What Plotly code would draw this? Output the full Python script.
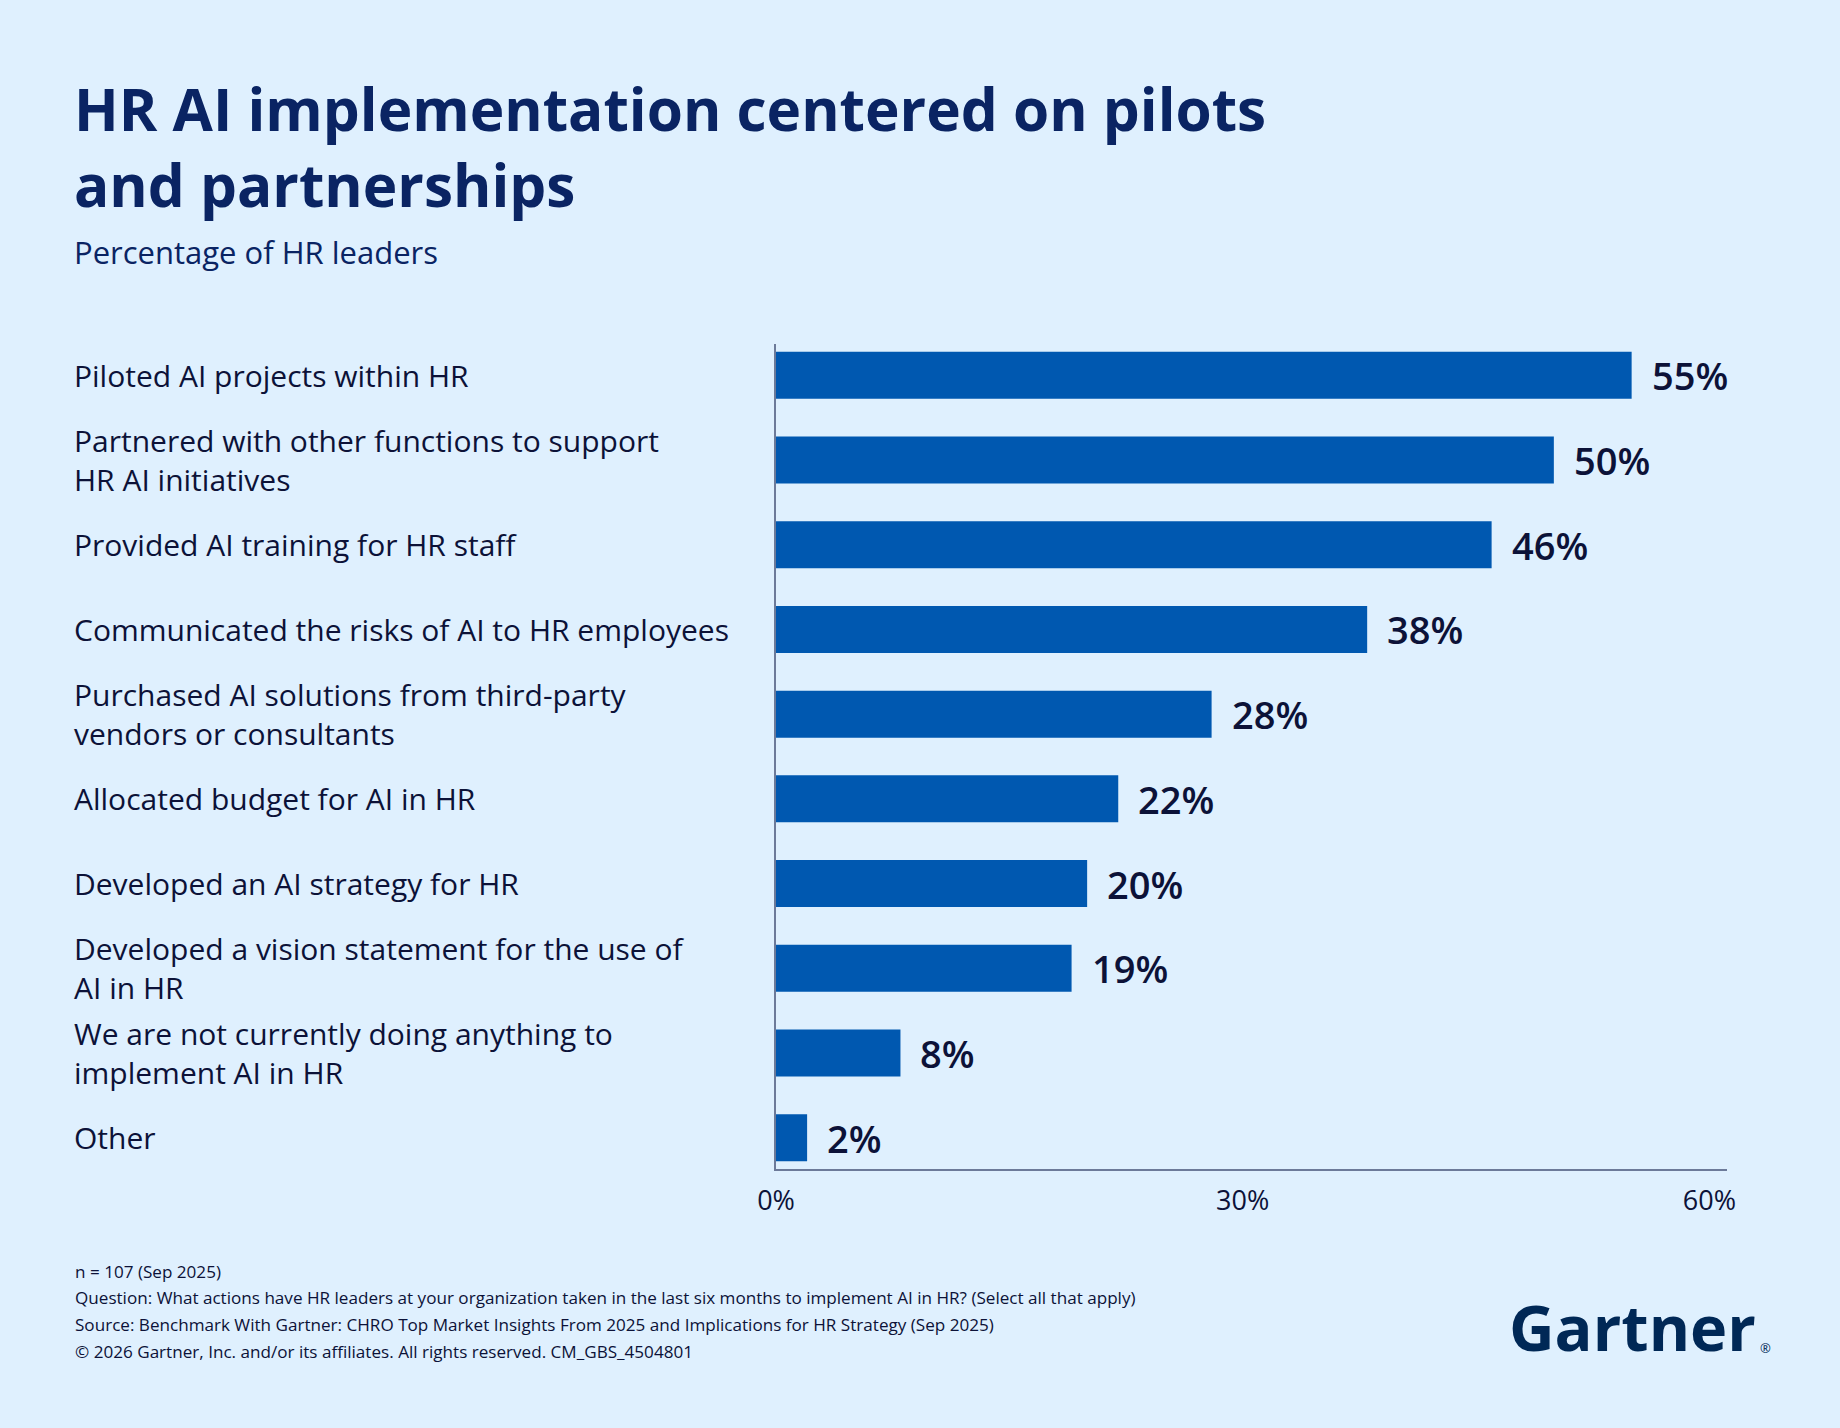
import plotly.graph_objects as go

categories = [
    "Piloted AI projects within HR",
    "Partnered with other functions to support<br>HR AI initiatives",
    "Provided AI training for HR staff",
    "Communicated the risks of AI to HR employees",
    "Purchased AI solutions from third-party<br>vendors or consultants",
    "Allocated budget for AI in HR",
    "Developed an AI strategy for HR",
    "Developed a vision statement for the use of<br>AI in HR",
    "We are not currently doing anything to<br>implement AI in HR",
    "Other",
]
values = [55, 50, 46, 38, 28, 22, 20, 19, 8, 2]
tick_vals = [0, 30, 60]
tick_text = ["0%", "30%", "60%"]

title_text = "HR AI implementation centered on pilots<br>and partnerships"
subtitle_text = "Percentage of HR leaders"
footnotes = [
    "n = 107 (Sep 2025)",
    "Question: What actions have HR leaders at your organization taken in the last six months to implement AI in HR? (Select all that apply)",
    "Source: Benchmark With Gartner: CHRO Top Market Insights From 2025 and Implications for HR Strategy (Sep 2025)",
    "© 2026 Gartner, Inc. and/or its affiliates. All rights reserved. CM_GBS_4504801",
]

BG = "#dff0fe"
BAR = "#0058b0"
NAVY = "#0a2463"
DARK = "#0c1238"
AXIS = "#6c7a99"
FONT = "Open Sans"

W, H = 1840, 1428
L, R, T, B = 776, 113, 344, 259
plot_w = W - L - R
plot_h = H - T - B


def px(x):
    return (x - L) / plot_w


def py(y):
    return (H - B - y) / plot_h


ypos = list(range(len(categories)))

fig = go.Figure()
fig.add_trace(go.Bar(
    x=values, y=ypos, orientation="h",
    marker=dict(color=BAR, line=dict(width=0)),
    width=0.555, hoverinfo="skip",
))

annotations = []
for i, (c, v) in enumerate(zip(categories, values)):
    annotations.append(dict(
        x=px(72), xref="paper", y=i, yref="y",
        text=c, showarrow=False, xanchor="left", yanchor="middle", align="left",
        font=dict(family=FONT, size=30, color=DARK),
    ))
    annotations.append(dict(
        x=v, xref="x", y=i, yref="y", text=f"{v}%", showarrow=False,
        xanchor="left", yanchor="middle", xshift=18,
        font=dict(family=FONT, size=38, color=DARK, weight=600),
    ))

annotations.append(dict(
    x=px(72), xref="paper", y=py(146), yref="paper", xanchor="left", yanchor="middle",
    text=title_text, showarrow=False, align="left",
    font=dict(family=FONT, size=58.5, color=NAVY, weight=700),
))
annotations.append(dict(
    x=px(72), xref="paper", y=py(252), yref="paper", xanchor="left", yanchor="middle",
    text=subtitle_text, showarrow=False, align="left",
    font=dict(family=FONT, size=31, color=NAVY),
))
for k, f in enumerate(footnotes):
    annotations.append(dict(
        x=px(73), xref="paper", y=py(1271 + 26.8 * k), yref="paper",
        xanchor="left", yanchor="middle", text=f, showarrow=False, align="left",
        font=dict(family=FONT, size=17.1, color=DARK),
    ))
annotations.append(dict(
    x=px(1758), xref="paper", y=py(1326), yref="paper", xanchor="right", yanchor="middle",
    text="Gartner", showarrow=False,
    font=dict(family=FONT, size=63, color="#002856", weight=700),
))
annotations.append(dict(
    x=px(1758), xref="paper", y=py(1348), yref="paper", xanchor="left", yanchor="middle",
    text="®", showarrow=False,
    font=dict(family=FONT, size=13, color="#002856"),
))

fig.update_layout(
    width=W, height=H,
    margin=dict(l=L, r=R, t=T, b=B, pad=0),
    paper_bgcolor=BG, plot_bgcolor=BG,
    showlegend=False,
    annotations=annotations,
    xaxis=dict(
        range=[0, 61.13], tickvals=tick_vals, ticktext=tick_text,
        showgrid=False, zeroline=False, showline=True, linecolor=AXIS, linewidth=2,
        ticks="outside", ticklen=7, tickcolor="rgba(0,0,0,0)",
        tickfont=dict(family=FONT, size=27, color=DARK), fixedrange=True,
    ),
    yaxis=dict(
        range=[9.37, -0.37], showticklabels=False, showgrid=False, zeroline=False,
        showline=True, linecolor=AXIS, linewidth=2, fixedrange=True,
    ),
)

fig.write_html("out.html")
